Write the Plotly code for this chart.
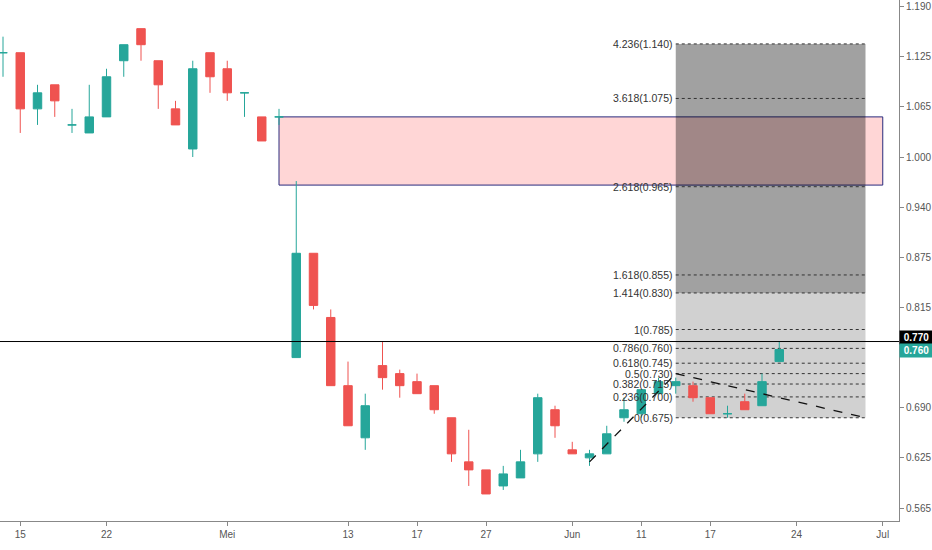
import plotly.graph_objects as go

# ---------------- data ----------------
# trading days (Bursa 2019) incl. the empty future area up to 1 Jul
dates = [
    "2019-04-12",
    "2019-04-15", "2019-04-16", "2019-04-17", "2019-04-18", "2019-04-19",
    "2019-04-22", "2019-04-23", "2019-04-24", "2019-04-25", "2019-04-26",
    "2019-04-29", "2019-04-30", "2019-05-02", "2019-05-03",
    "2019-05-06", "2019-05-07", "2019-05-08", "2019-05-09", "2019-05-10",
    "2019-05-13", "2019-05-14", "2019-05-15", "2019-05-16", "2019-05-17",
    "2019-05-21", "2019-05-23", "2019-05-24",
    "2019-05-27", "2019-05-28", "2019-05-29", "2019-05-30", "2019-05-31",
    "2019-06-03", "2019-06-04", "2019-06-07",
    "2019-06-10", "2019-06-11", "2019-06-12", "2019-06-13", "2019-06-14",
    "2019-06-17", "2019-06-18", "2019-06-19", "2019-06-20", "2019-06-21",
    "2019-06-24", "2019-06-25", "2019-06-26", "2019-06-27", "2019-06-28",
    "2019-07-01",
]

opens = [1.13, 1.13, 1.06, 1.09, 1.04, 1.03, 1.05, 1.12, 1.16, 1.12, 1.06, 1.01,
         1.13, 1.11, 1.08, 1.05, 1.05, 0.75, 0.88, 0.80, 0.715, 0.65, 0.74, 0.73,
         0.72, 0.715, 0.675, 0.62, 0.61, 0.59, 0.60, 0.63, 0.685, 0.635, 0.625,
         0.63, 0.675, 0.68, 0.705, 0.715, 0.715, 0.70, 0.68, 0.695, 0.69, 0.745]
highs = [1.15, 1.13, 1.09, 1.09, 1.06, 1.09, 1.11, 1.14, 1.16, 1.12, 1.07, 1.12,
         1.13, 1.12, 1.08, 1.05, 1.06, 0.97, 0.88, 0.81, 0.745, 0.705, 0.77, 0.735,
         0.73, 0.715, 0.675, 0.66, 0.61, 0.615, 0.635, 0.705, 0.69, 0.645, 0.635,
         0.665, 0.70, 0.71, 0.725, 0.725, 0.72, 0.70, 0.69, 0.705, 0.73, 0.77]
lows = [1.10, 1.03, 1.04, 1.05, 1.03, 1.03, 1.05, 1.10, 1.12, 1.06, 1.04, 1.00,
        1.08, 1.07, 1.05, 1.02, 1.04, 0.75, 0.81, 0.715, 0.665, 0.635, 0.71, 0.70,
        0.705, 0.68, 0.62, 0.59, 0.58, 0.585, 0.60, 0.62, 0.65, 0.63, 0.615,
        0.63, 0.67, 0.675, 0.705, 0.705, 0.695, 0.68, 0.675, 0.685, 0.69, 0.745]
closes = [1.13, 1.06, 1.08, 1.07, 1.04, 1.05, 1.10, 1.14, 1.14, 1.09, 1.04, 1.11,
          1.10, 1.08, 1.08, 1.02, 1.05, 0.88, 0.815, 0.715, 0.665, 0.69, 0.725, 0.715,
          0.705, 0.685, 0.63, 0.61, 0.58, 0.605, 0.62, 0.70, 0.665, 0.63, 0.63,
          0.655, 0.685, 0.71, 0.72, 0.72, 0.70, 0.68, 0.68, 0.685, 0.72, 0.76]

tick_dates = ["2019-04-15", "2019-04-22", "2019-05-02", "2019-05-13", "2019-05-17",
              "2019-05-27", "2019-06-03", "2019-06-11", "2019-06-17", "2019-06-24",
              "2019-07-01"]
tick_text = ["15", "22", "Mei", "13", "17", "27", "Jun", "11", "17", "24", "Jul"]

y_tickvals = [1.1875, 1.125, 1.0625, 1.0, 0.9375, 0.875, 0.8125, 0.6875, 0.625, 0.5625]
y_ticktext = ["1.190", "1.125", "1.065", "1.000", "0.940", "0.875", "0.815",
              "0.690", "0.625", "0.565"]

# trend-based fib extension: points A, B, C
fib_dates = ["2019-06-04", "2019-06-13", "2019-06-28"]
fib_prices = [0.62, 0.73, 0.675]
fib_ratios = [0, 0.236, 0.382, 0.5, 0.618, 0.786, 1, 1.414, 1.618, 2.618, 3.618, 4.236]

zone_dates = ["2019-05-07", "2019-07-01"]
zone_prices = [0.965, 1.05]

hline_price = 0.77
last_price = 0.76

# ---------------- styling ----------------
GREEN = "#26A69A"
RED = "#EF5350"
FONT = "Liberation Sans, Arial, sans-serif"

idx = {d: i for i, d in enumerate(dates)}
n = len(opens)
xs = list(range(n))

up = [i for i in range(n) if closes[i] >= opens[i]]
dn = [i for i in range(n) if closes[i] < opens[i]]

fig = go.Figure()
for sel, col in ((up, GREEN), (dn, RED)):
    fig.add_trace(go.Candlestick(
        x=[xs[i] for i in sel],
        open=[opens[i] for i in sel],
        high=[highs[i] for i in sel],
        low=[lows[i] for i in sel],
        close=[closes[i] for i in sel],
        increasing=dict(line=dict(color=col, width=1), fillcolor=col),
        decreasing=dict(line=dict(color=col, width=1), fillcolor=col),
        whiskerwidth=0,
        showlegend=False,
        hoverinfo="skip",
    ))

shapes = []
annotations = []

# supply zone rectangle
shapes.append(dict(type="rect", xref="x", yref="y", layer="below",
                   x0=idx[zone_dates[0]], x1=idx[zone_dates[1]],
                   y0=zone_prices[0], y1=zone_prices[1],
                   fillcolor="rgba(255,0,0,0.16)",
                   line=dict(color="#2A2A7C", width=1)))

# fib extension
xa, xb, xc = (idx[d] for d in fib_dates)
pa, pb, pc = fib_prices
levels = [pc + r * (pb - pa) for r in fib_ratios]
lv = dict(zip(fib_ratios, levels))

shapes.append(dict(type="rect", xref="x", yref="y", layer="below",
                   x0=xb, x1=xc, y0=lv[0], y1=lv[1.414],
                   fillcolor="rgba(0,0,0,0.18)", line=dict(width=0)))
shapes.append(dict(type="rect", xref="x", yref="y", layer="below",
                   x0=xb, x1=xc, y0=lv[1.414], y1=lv[4.236],
                   fillcolor="rgba(0,0,0,0.37)", line=dict(width=0)))
for r, p in zip(fib_ratios, levels):
    shapes.append(dict(type="line", xref="x", yref="y", layer="below",
                       x0=xb, x1=xc, y0=p, y1=p,
                       line=dict(color="#333333", width=1, dash="dot")))
    annotations.append(dict(x=xb, y=p, xref="x", yref="y", xanchor="right",
                            yanchor="middle", xshift=-1, showarrow=False,
                            text=f"{r:g}({round(p / 0.005) * 0.005:.3f})",
                            font=dict(family=FONT, size=10.5, color="#333333")))

# trend lines of the fib tool
shapes.append(dict(type="line", xref="x", yref="y", x0=xa, y0=pa, x1=xb, y1=pb,
                   line=dict(color="#111", width=1.3, dash="dash")))
shapes.append(dict(type="line", xref="x", yref="y", x0=xb, y0=pb, x1=xc, y1=pc,
                   line=dict(color="#111", width=1.3, dash="dash")))

# horizontal line
shapes.append(dict(type="line", xref="paper", yref="y", x0=0, x1=1,
                   y0=hline_price, y1=hline_price,
                   line=dict(color="black", width=1)))

# price labels on the axis
annotations.append(dict(x=1, xref="paper", xanchor="left", y=hline_price, yref="y",
                        yshift=4, text=f"<b>{hline_price:.3f}</b>", showarrow=False,
                        bgcolor="black", width=33, height=13, borderpad=0,
                        font=dict(family=FONT, size=10, color="white")))
annotations.append(dict(x=1, xref="paper", xanchor="left", y=last_price, yref="y",
                        yshift=-1, text=f"<b>{last_price:.3f}</b>", showarrow=False,
                        bgcolor=GREEN, width=33, height=13, borderpad=0,
                        font=dict(family=FONT, size=10, color="white")))

fig.update_layout(
    width=932, height=550,
    margin=dict(l=0, r=33, t=0, b=29),
    paper_bgcolor="white", plot_bgcolor="white",
    shapes=shapes, annotations=annotations,
    font=dict(family=FONT, size=10, color="#555"),
    xaxis=dict(
        range=[-3 / 17.25, 896 / 17.25],
        automargin=False,
        rangeslider=dict(visible=False),
        showgrid=False, zeroline=False,
        showline=True, linecolor="#888", linewidth=1,
        ticks="outside", ticklen=4, tickcolor="#888",
        tickvals=[idx[d] for d in tick_dates], ticktext=tick_text,
        tickfont=dict(family=FONT, size=10, color="#555"),
    ),
    yaxis=dict(
        side="right",
        automargin=False,
        range=[0.5463, 1.1957],
        showgrid=False, zeroline=False,
        showline=True, linecolor="#888", linewidth=1,
        ticks="outside", ticklen=4, tickcolor="#888",
        tickvals=y_tickvals, ticktext=y_ticktext,
        tickfont=dict(family=FONT, size=10, color="#555"),
    ),
    hovermode=False,
)

fig.write_html(
    "out.html",
    config={"displayModeBar": False},
    post_script="document.body.style.margin='0';document.body.style.overflow='hidden';",
)
